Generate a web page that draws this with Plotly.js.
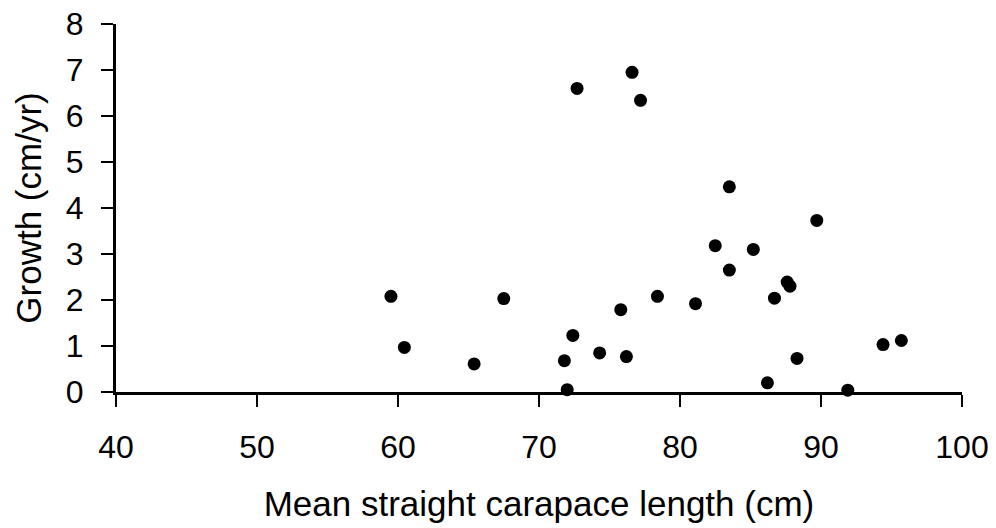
<!DOCTYPE html>
<html>
<head>
<meta charset="utf-8">
<script src="https://cdn.plot.ly/plotly-3.0.1.min.js"></script>
<style>html,body{margin:0;padding:0;background:#fff;}#chart{width:996px;height:528px;}</style>
</head>
<body>
<div id="chart"></div>
<script>
// Mean straight carapace length (cm)
const lengthCm = [59.5, 60.45, 65.4, 67.5, 72.7, 76.6, 77.2, 83.5, 89.7, 82.5, 85.2, 83.5, 87.6, 87.8,
                  86.7, 78.4, 81.1, 75.8, 72.4, 71.8, 74.3, 76.2, 72.0, 86.2, 88.3, 91.9, 94.4, 95.7];
// Growth (cm/yr)
const growth = [2.08, 0.97, 0.61, 2.03, 6.60, 6.95, 6.34, 4.46, 3.73, 3.18, 3.10, 2.65, 2.39, 2.30,
                2.04, 2.08, 1.92, 1.79, 1.23, 0.68, 0.85, 0.77, 0.05, 0.20, 0.73, 0.04, 1.03, 1.12];
const xTicks = [40, 50, 60, 70, 80, 90, 100];
const yTicks = [0, 1, 2, 3, 4, 5, 6, 7, 8];

const font = 'Liberation Sans, Arial, sans-serif';

Plotly.newPlot('chart', [{
  type: 'scatter',
  mode: 'markers',
  x: lengthCm,
  y: growth,
  cliponaxis: false,
  marker: {color: '#000', size: 13}
}], {
  width: 996, height: 528,
  paper_bgcolor: '#fff', plot_bgcolor: '#fff',
  margin: {l: 116, r: 34, t: 24, b: 136},
  showlegend: false,
  font: {family: font, color: '#000'},
  xaxis: {
    range: [40, 100], tickvals: xTicks, ticktext: xTicks.map(String),
    showgrid: false, zeroline: false, showline: true, linecolor: '#000', linewidth: 3,
    ticks: 'outside', ticklen: 12, tickwidth: 2, tickcolor: '#000',
    tickfont: {size: 32, family: font, color: '#000'}, ticklabelstandoff: 13,
    title: {text: 'Mean straight carapace length (cm)', font: {size: 35, family: font, color: '#000'}, standoff: 28}
  },
  yaxis: {
    range: [0, 8], tickvals: yTicks, ticktext: yTicks.map(String),
    showgrid: false, zeroline: false, showline: true, linecolor: '#000', linewidth: 3,
    ticks: 'outside', ticklen: 12, tickwidth: 2, tickcolor: '#000',
    tickfont: {size: 32, family: font, color: '#000'}, ticklabelstandoff: 11,
    title: {text: 'Growth (cm/yr)', font: {size: 35, family: font, color: '#000'}, standoff: 14}
  }
}, {staticPlot: true});
</script>
</body>
</html>
